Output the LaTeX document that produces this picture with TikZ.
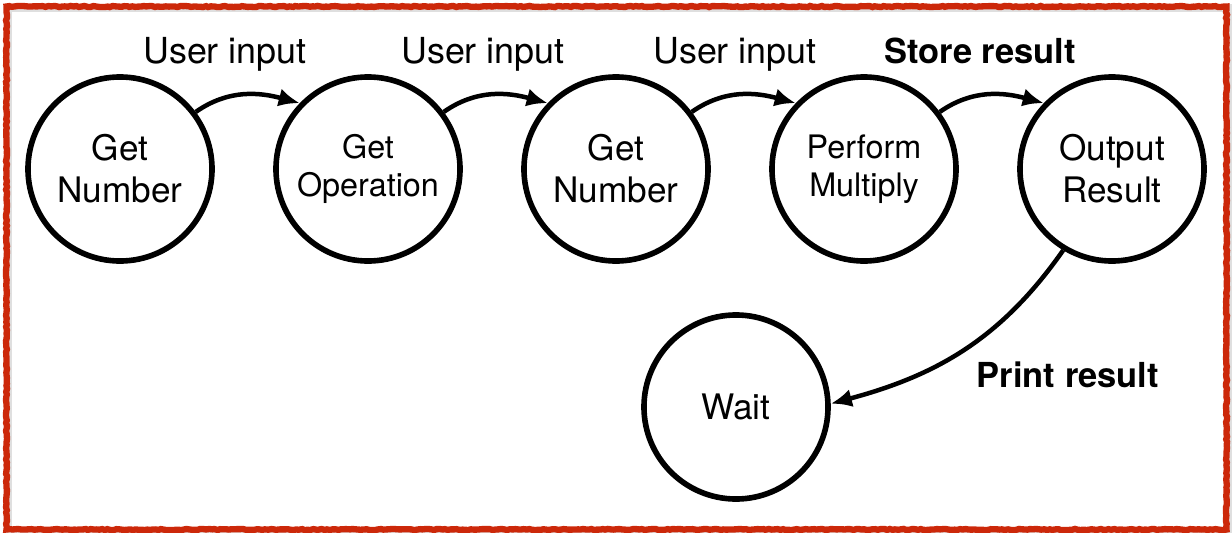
\documentclass[tikz,border=0pt]{standalone}
\usepackage{fontspec}
\setmainfont{TeX Gyre Heros}
\usetikzlibrary{arrows.meta,decorations.pathmorphing}
\definecolor{framered}{RGB}{204,40,10}

\begin{document}
\begin{tikzpicture}[x=0.025cm,y=-0.025cm,
  state/.style={draw,circle,line width=4pt,minimum size=4.6cm,inner sep=0pt,
    align=center,font=\fontsize{25}{30}\selectfont},
  smalltext/.style={font=\fontsize{23}{27}\selectfont},
  trans/.style={-{Latex[length=15pt,width=13pt]},line width=3.2pt},
  lbl/.style={anchor=base,font=\fontsize{25.5}{30}\selectfont},
  boldlbl/.style={anchor=base,font=\bfseries\fontsize{24.5}{30}\selectfont}]
  \useasboundingbox (0,0) rectangle (1232,533);
  % frame
  \draw[gray!25,line width=6pt] (8,8) rectangle (1228,531);
  \draw[framered,line width=4.5pt,decorate,
    decoration={random steps,segment length=2pt,amplitude=0.4pt}]
    (6.5,6.5) rectangle (1226.5,529.5);
  % states
  \node[state] (num1) at (120,169) {Get\\Number};
  \node[state,smalltext] (oper) at (368,169) {Get\\Operation};
  \node[state] (num2) at (616,169) {Get\\Number};
  \node[state,smalltext] (mult) at (864,169) {Perform\\Multiply};
  \node[state] (outp) at (1112,169) {Output\\Result};
  \node[state] (wait) at (736,407) {Wait};
  % transitions
  \draw[trans] (num1.37) to[out=35,in=165] (oper.136);
  \draw[trans] (oper.37) to[out=35,in=165] (num2.136);
  \draw[trans] (num2.37) to[out=35,in=165] (mult.136);
  \draw[trans] (mult.37) to[out=35,in=165] (outp.136);
  \draw[trans] (outp.239) to[out=-125,in=15] (wait.2);
  % labels
  \node[lbl] (in1) at (225,63) {User input};
  \node[lbl] (in2) at (483,63) {User input};
  \node[lbl] (in3) at (735,63) {User input};
  \node[boldlbl] (store) at (980,63) {Store result};
  \node[boldlbl] (print) at (1068,387) {Print result};
\end{tikzpicture}
\end{document}
